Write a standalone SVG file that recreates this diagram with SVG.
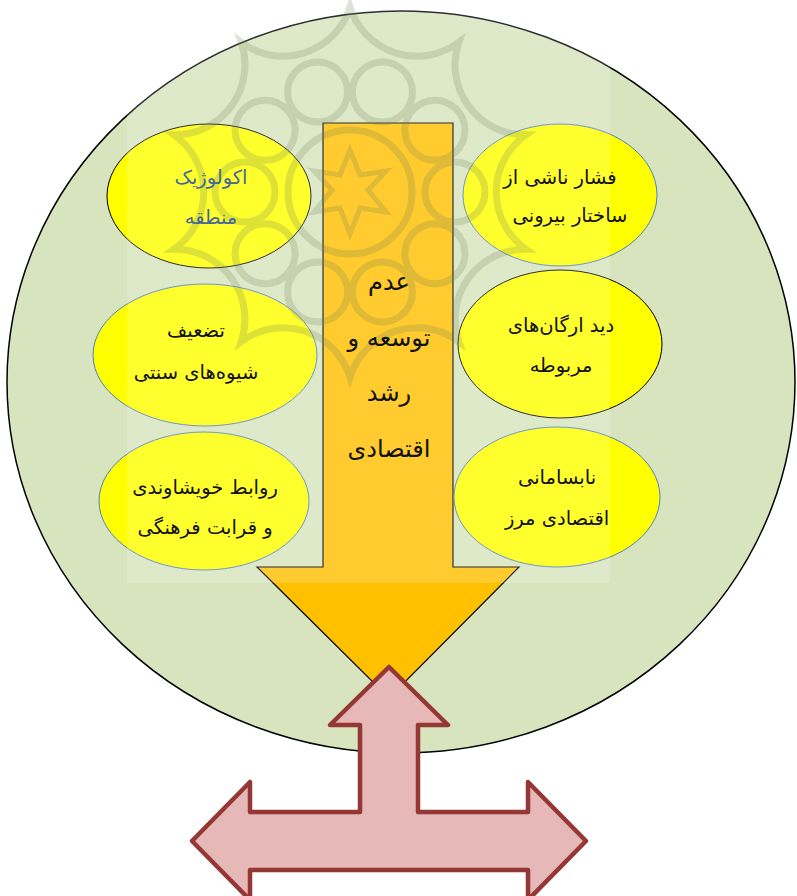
<svg xmlns="http://www.w3.org/2000/svg" width="797" height="896" viewBox="0 0 797 896">
<style>
.t{font-family:"DejaVu Sans","Noto Sans",sans-serif;font-size:19.5px;fill:#111;text-anchor:middle;direction:rtl}
.c{font-size:24px}
.blue{fill:#44679B}
.ell{fill:#FFFF00;stroke-width:1}
.bk{stroke:#000}
.bl{stroke:#4F81BD}
.logo{fill:none;stroke:#6F7F58;stroke-width:7;opacity:0.22}
</style>
<rect width="797" height="896" fill="#fff"/>
<g id="circle">
<ellipse cx="401" cy="382" rx="394" ry="371" fill="#D7E4BD" stroke="#000" stroke-width="1.5"/>
</g>
<g id="main-arrow">
<path d="M323,123 L453,123 L453,567 L519,567 L389,698 L257,567 L323,567 Z" fill="#FFC000" stroke="#000" stroke-width="1.2"/>
</g>
<g id="n1"><ellipse class="ell bk" cx="209" cy="196" rx="102" ry="72"/></g>
<g id="n2"><ellipse class="ell bl" cx="205" cy="355" rx="112" ry="71"/></g>
<g id="n3"><ellipse class="ell bl" cx="204" cy="501" rx="105" ry="69"/></g>
<g id="n4"><ellipse class="ell bl" cx="560" cy="195" rx="97" ry="71"/></g>
<g id="n5"><ellipse class="ell bk" cx="560" cy="344" rx="102" ry="74"/></g>
<g id="n6"><ellipse class="ell bl" cx="557" cy="497" rx="103" ry="70"/></g>
<g id="watermark">
<rect x="127" y="0" width="483" height="583" fill="#fff" opacity="0.18"/>
<g class="logo">
<path d="M350,7 A70,70 0 0 0 458.8,42.3 A70,70 0 0 0 525.9,134.8 A70,70 0 0 0 525.9,249.2 A70,70 0 0 0 458.8,341.7 A70,70 0 0 0 350,377 A70,70 0 0 0 241.2,341.7 A70,70 0 0 0 174.1,249.2 A70,70 0 0 0 174.1,134.8 A70,70 0 0 0 241.2,42.3 A70,70 0 0 0 350,7 Z"/>
<circle cx="382.4" cy="92.1" r="30"/>
<circle cx="434.9" cy="130.3" r="30"/>
<circle cx="455" cy="192" r="30"/>
<circle cx="434.9" cy="253.7" r="30"/>
<circle cx="382.4" cy="291.9" r="30"/>
<circle cx="317.6" cy="291.9" r="30"/>
<circle cx="265.1" cy="253.7" r="30"/>
<circle cx="245" cy="192" r="30"/>
<circle cx="265.1" cy="130.3" r="30"/>
<circle cx="317.6" cy="92.1" r="30"/>
<circle cx="350" cy="192" r="62"/>
<path d="M350,150 L360,175 L386,171 L368,190 L386,212 L360,208 L350,234 L340,208 L314,212 L332,190 L314,171 L340,175 Z" stroke-width="5"/>
</g>
</g>
<g id="labels">
<text class="t blue" x="211" y="184">اکولوژیک</text>
<text class="t blue" x="211" y="224">منطقه</text>
<text class="t" x="196" y="337">تضعیف</text>
<text class="t" x="196" y="379">شیوه‌های سنتی</text>
<text class="t" x="205" y="494">روابط خویشاوندی</text>
<text class="t" x="205" y="534">و قرابت فرهنگی</text>
<text class="t" x="560" y="184">فشار ناشی از</text>
<text class="t" x="570" y="222">ساختار بیرونی</text>
<text class="t" x="561" y="332">دید ارگان‌های</text>
<text class="t" x="561" y="372">مربوطه</text>
<text class="t" x="557" y="484">نابسامانی</text>
<text class="t" x="557" y="525">اقتصادی مرز</text>
<text class="t c" x="389" y="290">عدم</text>
<text class="t c" x="389" y="346">توسعه و</text>
<text class="t c" x="389" y="401">رشد</text>
<text class="t c" x="389" y="457">اقتصادی</text>
</g>
<g id="cross-arrow">
<path d="M389,667 L448,725 L418,725 L418,812 L528,812 L528,782 L586,841 L528,900 L528,870 L250,870 L250,900 L192,841 L250,782 L250,812 L360,812 L360,725 L330,725 Z" fill="#E6B8B7" stroke="#953735" stroke-width="4.5" stroke-linejoin="round"/>
</g>
</svg>
